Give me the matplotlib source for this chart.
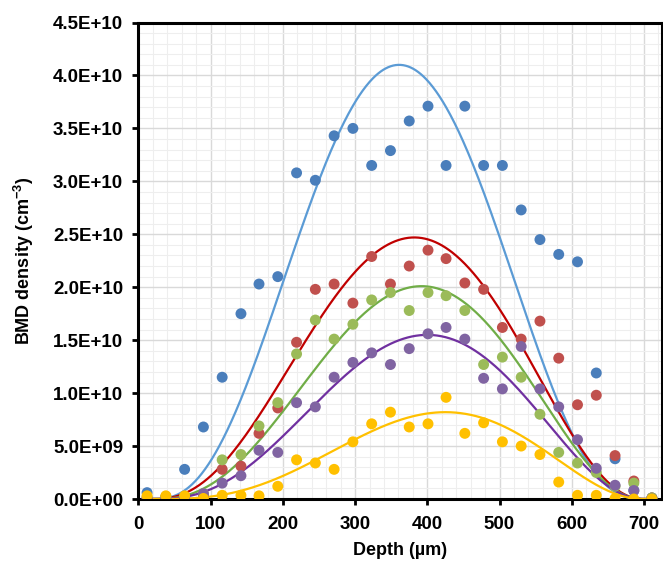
import numpy as np
import matplotlib
matplotlib.use("Agg")
import matplotlib.pyplot as plt
from matplotlib.ticker import MultipleLocator, FuncFormatter

# Depth of each measurement (µm)
depth = [12, 38, 64, 90, 116, 142, 167, 193, 219, 245, 271, 297, 323, 349,
         375, 401, 426, 452, 478, 504, 530, 556, 582, 608, 634, 660, 686, 711]

# Measured BMD density for each sample (units of 1e9 cm^-3)
blue = [0.6, 0.2, 2.8, 6.8, 11.5, 17.5, 20.3, 21.0, 30.8, 30.1, 34.3, 35.0, 31.5, 32.9,
        35.7, 37.1, 31.5, 37.1, 31.5, 31.5, 27.3, 24.5, 23.1, 22.4, 11.9, 3.8, 0.8, 0.1]
red = [0.1, 0.2, 0.2, 0.3, 2.8, 3.1, 6.2, 8.6, 14.8, 19.8, 20.3, 18.5, 22.9, 20.3,
       22.0, 23.5, 22.7, 20.4, 19.8, 16.2, 15.1, 16.8, 13.3, 8.9, 9.8, 4.1, 1.7, 0.1]
green = [0.2, 0.2, 0.2, 0.5, 3.7, 4.2, 6.9, 9.1, 13.7, 16.9, 15.1, 16.5, 18.8, 19.5,
         17.8, 19.5, 19.2, 17.8, 12.7, 13.4, 11.5, 8.0, 4.4, 3.4, 2.5, 1.2, 1.5, 0.1]
purple = [0.0, 0.0, 0.1, 0.5, 1.5, 2.2, 4.6, 4.4, 9.1, 8.7, 11.5, 12.9, 13.8, 12.7,
          14.2, 15.6, 16.2, 15.1, 11.4, 10.4, 14.4, 10.4, 8.7, 5.6, 2.9, 1.3, 0.8, 0.0]
yellow = [0.3, 0.3, 0.3, 0.05, 0.35, 0.35, 0.3, 1.2, 3.7, 3.4, 2.8, 5.4, 7.1, 8.2,
          6.8, 7.1, 9.6, 6.2, 7.2, 5.4, 5.0, 4.2, 1.6, 0.35, 0.35, 0.05, 0.0, 0.0]

# Fitted profile parameters per sample: peak depth (µm), peak density (1e9 cm^-3),
# shape exponent, and the depth range where the profile is non-zero
fit_peak_depth = [361, 382, 392, 400, 425]
fit_peak_value = [41.0, 24.7, 20.1, 15.5, 8.2]
fit_exponent = [5.5, 4.8, 5.0, 5.0, 5.5]
fit_start = [20, 20, 20, 20, 20]
fit_end = [700, 700, 700, 700, 700]

y_ticks = [0, 5e9, 1e10, 1.5e10, 2e10, 2.5e10, 3e10, 3.5e10, 4e10, 4.5e10]
x_ticks = [0, 100, 200, 300, 400, 500, 600, 700]

point_colors = ["#4a7ebb", "#c0504d", "#9bbb59", "#8064a2", "#ffc000"]
line_colors = ["#5b9bd5", "#c00000", "#70ad47", "#7030a0", "#ffc000"]


def profile(x, start, end, peak_x, peak_v, n):
    a = n * (peak_x - start) / (end - start)
    b = n - a
    xc = np.clip(x, start, end)
    u = (xc - start) / (peak_x - start)
    w = (end - xc) / (end - peak_x)
    return peak_v * u ** a * w ** b


plt.rcParams["font.family"] = ["Liberation Sans", "DejaVu Sans"]
plt.rcParams["font.weight"] = "bold"
plt.rcParams["mathtext.fontset"] = "custom"
plt.rcParams["mathtext.rm"] = "Liberation Sans:bold"
plt.rcParams["mathtext.default"] = "rm"

fig = plt.figure(figsize=(6.63, 5.61), dpi=100)
ax = fig.add_axes([138.4 / 663, 62 / 561, (662 - 138.4) / 663, (499 - 22.5) / 561])

x_arr = np.array(depth, dtype=float)
series = [blue, red, green, purple, yellow]

xs = np.linspace(12, 711, 600)
for i in range(5):
    ys = profile(xs, fit_start[i], fit_end[i], fit_peak_depth[i], fit_peak_value[i],
                 fit_exponent[i]) * 1e9
    ax.plot(xs, ys, color=line_colors[i], lw=1.6, zorder=3, solid_capstyle="round")

for i, s in enumerate(series):
    ax.scatter(x_arr, np.array(s) * 1e9, s=62, color=point_colors[i],
               edgecolors="none", zorder=4 + i)

ax.set_xlim(0, 725)
ax.set_ylim(0, 4.5e10)
ax.set_xticks(x_ticks)
ax.set_yticks(y_ticks)
ax.xaxis.set_minor_locator(MultipleLocator(20))
ax.yaxis.set_minor_locator(MultipleLocator(1e9))
ax.yaxis.set_major_formatter(FuncFormatter(lambda v, p: f"{v:.1E}"))

ax.grid(which="major", color="#d9d9d9", lw=1.0, zorder=0)
ax.grid(which="minor", color="#eeeeee", lw=0.8, zorder=0)
ax.set_axisbelow(True)

for sp in ax.spines.values():
    sp.set_linewidth(2.2)
    sp.set_color("black")

ax.tick_params(axis="both", which="major", direction="out", length=4, width=2,
               labelsize=13.5, color="black")
ax.tick_params(axis="y", which="major", pad=7)
ax.tick_params(axis="x", which="major", pad=8)
ax.tick_params(which="minor", length=0)

ax.set_xlabel("Depth (µm)", fontsize=13, fontweight="bold", labelpad=7)
ax.set_ylabel("BMD density (cm$^{-3}$)", fontsize=13, fontweight="bold", labelpad=12)

fig.savefig("out.png", dpi=100)
